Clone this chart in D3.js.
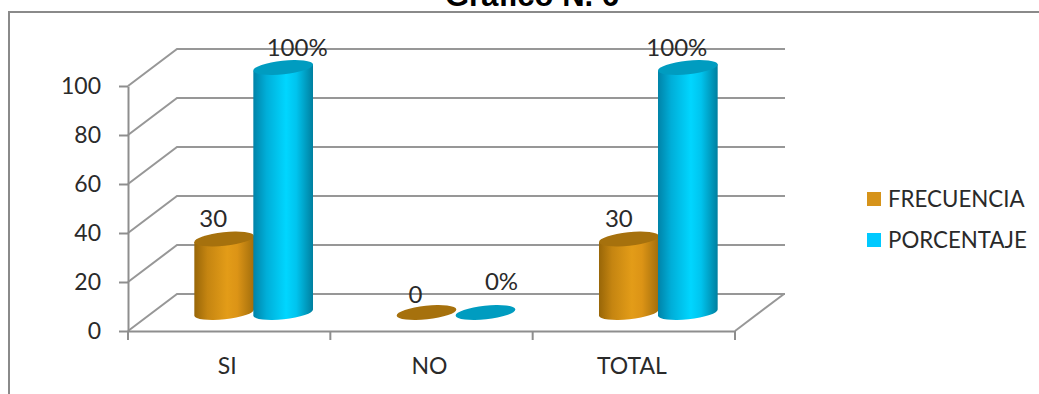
<!DOCTYPE html>
<html lang="es">
    <head>
        <meta charset="utf-8">
        <title>Grafico N. 6</title>
        <script src="https://d3js.org/d3.v7.min.js"></script>

        <style>
            html, body {
                margin: 0;
                padding: 0;
                background: #fff;
                overflow: hidden;
            }
            svg {
                display: block;
            }
            text {
                font-family: Lato, "Noto Sans", sans-serif;
                fill: #2a2a2a;
            }
            .title {
                font-family: "Liberation Sans", Arial, sans-serif;
                font-weight: bold;
                font-size: 31px;
                fill: #000;
            }
            .domain, .tick line {
                stroke: #8e8e8e;
                stroke-width: 2px;
            }
        </style>
    </head>
    <body>
        <script type="text/javascript">

            var categories = ["SI", "NO", "TOTAL"];
            var seriesNames = ["FRECUENCIA", "PORCENTAJE"];
            var frecuencia = [30, 0, 30];
            var porcentaje = [100, 0, 100];
            var yTicks = [0, 20, 40, 60, 80, 100];

            var outerWidth = 1039;
            var outerHeight = 394;
            var plot = { left:128, right:735, top:86, bottom:331 };
            var depth = { x:49, y:-37 };    // shift from the front plane to the back wall
            var tilt = 6;                   // degrees the cylinder ellipses lean
            var rx = 30,
                ry = 6.8;
            var floorLine = plot.bottom + depth.y / 2;

            // shade colours per series: side gradient stops and the lid
            var shades = [
                { stops: ["#986608", "#c58511", "#e39c18", "#dc9416", "#a26e0c"], lid: "#a6710d", key: "#d6931a" },
                { stops: ["#0083a8", "#00aed8", "#00d6ff", "#00c4ee", "#007f9f"], lid: "#009cc0", key: "#00c9ff" }
            ];

            // hand placed data labels, relative to the lid centre
            var labelShift = [
                [{ dx:-11, dy:-12 }, { dx:14, dy:-12 }],
                [{ dx:-11, dy:-10 }, { dx:16, dy:-23 }],
                [{ dx:-10, dy:-12 }, { dx:-11, dy:-12 }]
            ];

            var svg = d3.select("body")
                        .append("svg")
                        .attr("width", outerWidth)
                        .attr("height", outerHeight);

            var defs = svg.append("defs");

            shades.forEach(function(s, i) {
                var grad = defs.append("linearGradient")
                               .attr("id", "side" + i);
                grad.selectAll("stop")
                    .data(s.stops)
                    .enter()
                    .append("stop")
                    .attr("offset", function(d, j) { return [0, 0.22, 0.55, 0.72, 1][j]; })
                    .attr("stop-color", function(d) { return d; });
            });

            var xScale = d3.scaleBand()
                           .domain(categories)
                           .range([plot.left, plot.right]);

            var yScale = d3.scaleLinear()
                           .domain([0, 100])
                           .range([plot.bottom, plot.top]);

            var seriesScale = d3.scaleBand()
                                .domain(seriesNames)
                                .range([-59, 59]);

            function columnX(c, name) {
                return xScale(c) + xScale.bandwidth() / 2 + depth.x / 2 + seriesScale(name) + seriesScale.bandwidth() / 2;
            }

            function lidY(value) {
                return floorLine - (plot.bottom - yScale(value));
            }

            // outer frame, only top and left edges are in view
            svg.append("path")
               .attr("d", "M9,394V12H1039")
               .attr("fill", "none")
               .attr("stroke", "#8a8a8a")
               .attr("stroke-width", 2);

            svg.append("text")
               .attr("class", "title")
               .attr("x", 532)
               .attr("y", 6)
               .attr("text-anchor", "middle")
               .text("Gráfico N. 6");

            // gridlines run along the side wall and then the back wall
            svg.append("g")
               .selectAll("path")
               .data(yTicks)
               .enter()
               .append("path")
               .attr("fill", "none")
               .attr("stroke", "#979797")
               .attr("stroke-width", 2)
               .attr("d", function(d) {
                   var y = yScale(d);
                   return "M" + plot.left + "," + y +
                          "L" + (plot.left + depth.x) + "," + (y + depth.y) +
                          "H" + (plot.right + depth.x + 1);
               });

            // right edge of the floor
            svg.append("line")
               .attr("x1", plot.right)
               .attr("y1", plot.bottom)
               .attr("x2", plot.right + depth.x)
               .attr("y2", plot.bottom + depth.y)
               .attr("stroke", "#979797")
               .attr("stroke-width", 2);

            var yAxis = svg.append("g")
                           .attr("transform", "translate(" + plot.left + ",0)")
                           .call(d3.axisLeft(yScale).tickValues(yTicks).tickSize(9).tickSizeOuter(0).tickPadding(18));

            yAxis.selectAll("text")
                 .style("font-size", "23px");

            var xAxis = svg.append("g")
                           .attr("transform", "translate(0," + plot.bottom + ")")
                           .call(d3.axisBottom(xScale).tickSize(0).tickPadding(27));

            xAxis.selectAll("text")
                 .attr("dx", -2)
                 .style("font-size", "23px");

            // tick marks sit between the categories
            xAxis.selectAll(".edge")
                 .data(categories.map(function(c) { return xScale(c); }).concat(plot.right))
                 .enter()
                 .append("line")
                 .attr("class", "edge")
                 .attr("x1", function(d) { return d; })
                 .attr("x2", function(d) { return d; })
                 .attr("y2", 9)
                 .attr("stroke", "#8e8e8e")
                 .attr("stroke-width", 2);

            function column(series, values, i) {
                var rad = tilt * Math.PI / 180;
                var ex = rx * Math.cos(rad);
                var ey = rx * Math.sin(rad);
                var g = svg.append("g").attr("class", "series-" + i);

                categories.forEach(function(c, k) {
                    var cx = columnX(c, series);
                    var top = lidY(values[k]);

                    if (values[k] > 0) {
                        g.append("path")
                         .attr("fill", "url(#side" + i + ")")
                         .attr("d", "M" + (cx - ex) + "," + (top + ey) +
                                    "L" + (cx - ex) + "," + (floorLine + ey) +
                                    "A" + rx + "," + ry + " " + (-tilt) + " 0 0 " + (cx + ex) + "," + (floorLine - ey) +
                                    "L" + (cx + ex) + "," + (top - ey) + "Z");
                    }

                    g.append("ellipse")
                     .attr("rx", rx)
                     .attr("ry", ry)
                     .attr("fill", shades[i].lid)
                     .attr("transform", "translate(" + cx + "," + top + ") rotate(" + (-tilt) + ")");
                });
            }

            column(seriesNames[0], frecuencia, 0);
            column(seriesNames[1], porcentaje, 1);

            // data labels go on last so they stay over the gridlines
            [frecuencia, porcentaje].forEach(function(values, i) {
                categories.forEach(function(c, k) {
                    var shift = labelShift[k][i];
                    svg.append("text")
                       .attr("x", columnX(c, seriesNames[i]) + shift.dx)
                       .attr("y", lidY(values[k]) + shift.dy)
                       .attr("text-anchor", "middle")
                       .style("font-size", "24px")
                       .text(values[k] + (i === 1 ? "%" : ""));
                });
            });

            var legendY = d3.scalePoint()
                            .domain(seriesNames)
                            .range([199, 240]);

            var legend = svg.append("g")
                            .selectAll("g")
                            .data(seriesNames)
                            .enter()
                            .append("g")
                            .attr("transform", function(d) { return "translate(867," + legendY(d) + ")"; });

            legend.append("rect")
                  .attr("y", -7)
                  .attr("width", 14)
                  .attr("height", 14)
                  .attr("fill", function(d, i) { return shades[i].key; });

            legend.append("text")
                  .attr("x", 21)
                  .attr("y", 7.5)
                  .style("font-size", "22.3px")
                  .text(function(d) { return d; });

        </script>
    </body>
</html>
